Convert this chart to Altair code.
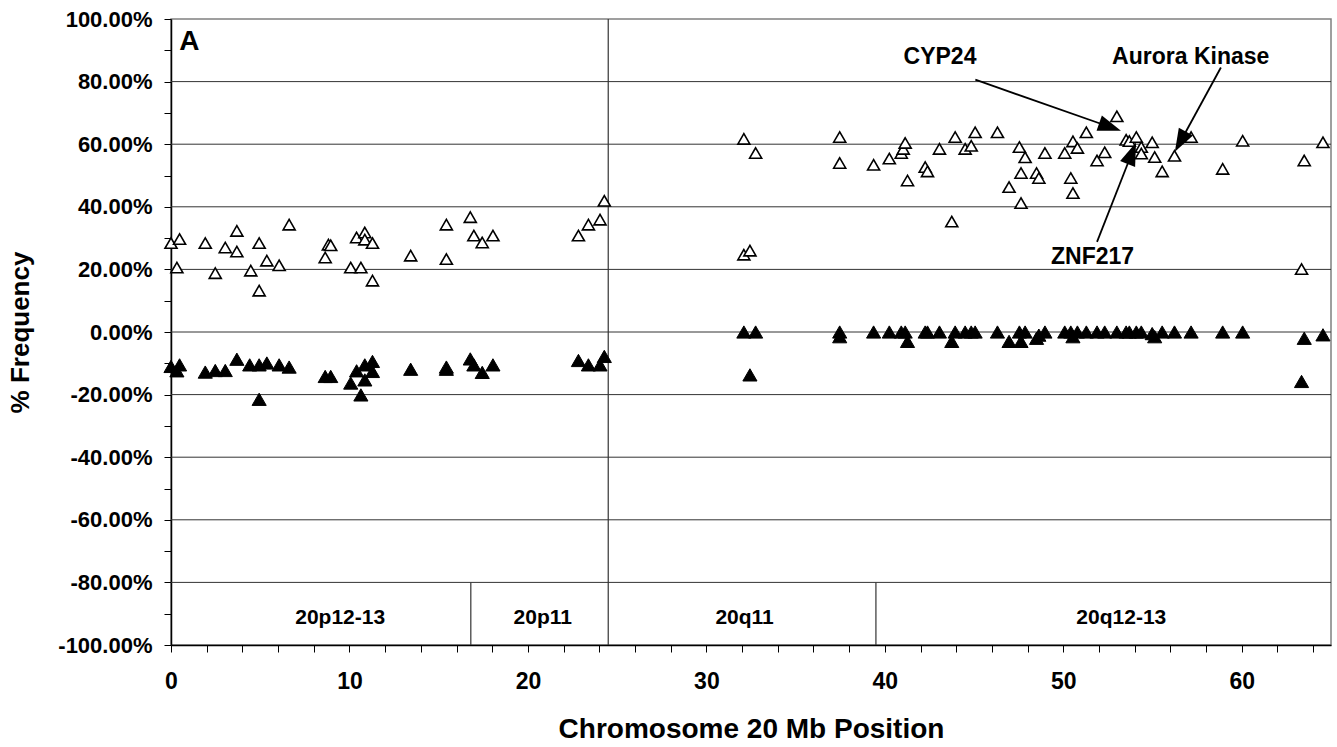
import altair as alt
import pandas as pd

# ---- data ----
gain_mb = [0.0, 0.48, 0.33, 1.92, 2.48, 3.04, 3.69, 3.69, 4.47, 4.94, 4.94, 5.37, 6.06, 6.62,
           8.64, 8.82, 8.95, 10.07, 10.40, 10.64, 10.86, 10.86, 11.29, 11.29,
           13.43, 15.43, 15.43, 16.77, 16.97, 17.44, 18.04, 22.83, 23.39, 24.04, 24.28,
           32.1, 32.76, 32.1, 32.44, 37.47, 37.47, 39.37, 40.25, 40.92, 41.03, 41.14, 41.27,
           42.26, 42.39, 43.06, 43.75, 43.94, 44.5, 44.84, 45.06, 46.31, 46.96, 47.54, 47.63,
           47.63, 47.86, 48.5, 48.63, 48.97, 50.08, 50.54, 50.79, 50.42, 50.54, 51.29, 51.89,
           52.32, 53.0, 53.52, 53.7, 54.09, 54.37, 54.37, 54.98, 55.12, 55.54, 56.23, 57.16,
           58.93, 60.05, 63.5, 63.35, 64.55]
gain_pct = [28.4, 29.7, 20.6, 28.4, 18.8, 27.0, 32.3, 25.7, 19.6, 28.4, 13.2, 22.8, 21.3, 34.3,
            23.8, 27.9, 27.7, 20.6, 30.2, 20.6, 31.8, 29.5, 28.4, 16.4,
            24.4, 34.3, 23.3, 36.7, 30.8, 28.6, 30.8, 30.8, 34.3, 35.9, 41.9,
            61.7, 57.2, 24.7, 26.0, 62.3, 54.0, 53.4, 55.4, 57.2, 58.5, 60.4, 48.4,
            52.7, 51.3, 58.5, 35.3, 62.3, 58.5, 59.5, 63.8, 63.8, 46.3, 59.1, 50.8,
            41.2, 55.8, 50.8, 49.2, 57.2, 57.2, 60.9, 58.8, 49.2, 44.4, 63.8, 54.8,
            57.4, 68.9, 61.4, 61.0, 62.3, 59.1, 57.0, 60.6, 55.9, 51.3, 56.3, 62.3,
            52.1, 61.1, 54.8, 20.1, 60.6]

loss_mb = [0.0, 0.33, 0.48, 1.92, 2.48, 3.04, 3.69, 4.41, 4.94, 4.94, 5.37, 6.06, 6.62,
           8.64, 8.95, 10.07, 10.40, 10.64, 10.86, 10.86, 11.29, 11.29,
           13.43, 15.43, 15.43, 16.77, 16.97, 17.44, 18.04, 22.83, 23.39, 24.04, 24.28,
           32.1, 32.76, 32.44, 37.47, 37.47, 39.37, 40.25, 40.92, 41.14, 41.27, 42.26, 42.39,
           43.06, 43.75, 43.94, 44.5, 44.84, 45.06, 46.31, 46.96, 47.54, 47.63, 47.86, 48.5,
           48.63, 48.97, 50.08, 50.42, 50.54, 50.79, 51.29, 51.89, 52.32, 53.0, 53.52, 53.7,
           54.09, 54.37, 54.98, 55.12, 55.54, 56.23, 57.16, 58.93, 60.05, 63.35, 63.5, 64.55]
loss_pct = [-11.0, -12.4, -10.5, -12.8, -12.3, -12.3, -8.7, -10.5, -10.5, -21.5, -9.9, -10.5, -11.2,
            -14.2, -14.2, -16.3, -12.4, -20.1, -15.3, -10.5, -9.4, -12.6,
            -11.9, -11.9, -11.2, -8.6, -10.5, -12.9, -10.5, -9.1, -10.5, -10.5, -7.8,
            0.0, 0.0, -13.7, 0.0, -1.5, 0.0, 0.0, 0.0, 0.0, -3.0, 0.0, 0.0,
            0.0, -3.0, 0.0, 0.0, 0.0, 0.0, 0.0, -3.0, 0.0, -3.0, 0.0, -2.0,
            -1.0, 0.0, 0.0, 0.0, -1.5, 0.0, 0.0, 0.0, 0.0, 0.0, 0.0, 0.0,
            0.0, 0.0, -0.5, -1.5, 0.0, 0.0, 0.0, 0.0, 0.0, -15.8, -2.0, -0.9]

grid_pct = [-80, -60, -40, -20, 0, 20, 40, 60, 80]
centromere_mb = [24.5]
band_edge_mb = [16.8, 39.5]
band_names = ["20p12-13", "20p11", "20q11", "20q12-13"]
band_mid_mb = [9.48, 20.83, 32.14, 53.25]
band_top = -80
band_bottom = -100
band_label_pct = -91.5

gene_names = ["CYP24", "Aurora Kinase", "ZNF217"]
gene_label_mb = [43.09, 57.14, 51.64]
gene_label_pct = [88.0, 88.0, 23.9]
arrow_start_mb = [45.07, 58.83, 51.89]
arrow_start_pct = [80.6, 84.5, 28.8]
arrow_end_mb = [52.62, 56.56, 53.84]
arrow_end_pct = [65.5, 60.8, 57.1]
arrow_angle = [109.3, 208.7, 21.5]

panel_letter = ["A"]
panel_letter_mb = [0.46]
panel_letter_pct = [92.6]

# ---- tables ----
gain_df = pd.DataFrame({"mb": gain_mb, "pct": gain_pct})
loss_df = pd.DataFrame({"mb": loss_mb, "pct": loss_pct})
grid_df = pd.DataFrame({"pct": grid_pct})
cen_df = pd.DataFrame({"mb": centromere_mb})
edge_df = pd.DataFrame({"mb": band_edge_mb, "top": [band_top] * len(band_edge_mb),
                        "bottom": [band_bottom] * len(band_edge_mb)})
band_df = pd.DataFrame({"mb": band_mid_mb, "name": band_names,
                        "pct": [band_label_pct] * len(band_names)})
gene_df = pd.DataFrame({"name": gene_names, "lx": gene_label_mb, "ly": gene_label_pct,
                        "x1": arrow_start_mb, "y1": arrow_start_pct,
                        "x2": arrow_end_mb, "y2": arrow_end_pct, "angle": arrow_angle})
letter_df = pd.DataFrame({"t": panel_letter, "mb": panel_letter_mb, "pct": panel_letter_pct})

FONT = "Liberation Sans"
X_TITLE = "Chromosome 20 Mb Position"
Y_TITLE = "% Frequency"
xs = alt.Scale(domain=[0, 65], nice=False, zero=False)
ys = alt.Scale(domain=[-100, 100], nice=False, zero=False)

x_axis = alt.Axis(
    values=list(range(0, 65, 2)),
    labelExpr="datum.value % 10 === 0 ? format(datum.value, 'd') : ''",
    grid=False, tickSize=7, tickColor="black", tickWidth=1,
    domainColor="black", domainWidth=1.5,
    labelFont=FONT, labelFontSize=23, labelFontWeight="bold", labelColor="black",
    labelPadding=18, labelFlush=False, labelOverlap=False,
    titleFont=FONT, titleFontSize=28, titleFontWeight="bold", titleColor="black",
    titleBaseline="alphabetic", titleY=92,
)
y_axis = alt.Axis(
    values=list(range(-100, 101, 10)),
    labelExpr=("datum.value % 20 === 0 ? (datum.value < 0 ? '-' : '') + "
               "format(abs(datum.value), '.2f') + '%' : ''"),
    grid=False, tickSize=7, tickColor="black", tickWidth=1,
    domainColor="black", domainWidth=1.5,
    labelFont=FONT, labelFontSize=22, labelFontWeight="bold", labelColor="black",
    labelPadding=12, labelFlush=False, labelOverlap=False,
    titleFont=FONT, titleFontSize=26, titleFontWeight="bold", titleColor="black",
    titleBaseline="alphabetic", titleX=-143, titleY=313, titleAngle=270,
)


def X(field):
    return alt.X(field, type="quantitative", scale=xs, axis=x_axis, title=X_TITLE)


def Y(field):
    return alt.Y(field, type="quantitative", scale=ys, axis=y_axis, title=Y_TITLE)


grid = alt.Chart(grid_df).mark_rule(color="#333333", strokeWidth=1).encode(y=Y("pct"))

cen = alt.Chart(cen_df).mark_rule(color="#333333", strokeWidth=1.2).encode(x=X("mb"))

edges = alt.Chart(edge_df).mark_rule(color="#333333", strokeWidth=1.2).encode(
    x=X("mb"), y=Y("top"), y2="bottom:Q")

bands = alt.Chart(band_df).mark_text(font=FONT, fontSize=21, fontWeight="bold",
                                     color="black", align="center", baseline="middle").encode(
    x=X("mb"), y=Y("pct"), text="name:N")

gain = alt.Chart(gain_df).mark_point(shape="triangle-up", filled=True, fill="white",
                                     stroke="black", strokeWidth=1.6, size=145, opacity=1).encode(
    x=X("mb"), y=Y("pct"))

loss = alt.Chart(loss_df).mark_point(shape="triangle-up", filled=True, fill="black",
                                     stroke="black", strokeWidth=1, size=200, opacity=1).encode(
    x=X("mb"), y=Y("pct"))

gene_text = alt.Chart(gene_df).mark_text(font=FONT, fontSize=23, fontWeight="bold",
                                         color="black", align="center", baseline="middle").encode(
    x=X("lx"), y=Y("ly"), text="name:N")

arrow_lines = alt.Chart(gene_df).mark_rule(color="black", strokeWidth=1.8).encode(
    x=X("x1"), y=Y("y1"), x2="x2:Q", y2="y2:Q")

arrow_heads = alt.Chart(gene_df).mark_point(shape="M0,-1L-0.7,1L0.7,1Z", filled=True,
                                            color="black", size=529, opacity=1).encode(
    x=X("x2"), y=Y("y2"), angle=alt.Angle("angle:Q", scale=None))

letter = alt.Chart(letter_df).mark_text(font=FONT, fontSize=28, fontWeight="bold",
                                        color="black", align="left", baseline="middle").encode(
    x=X("mb"), y=Y("pct"), text="t:N")

chart = alt.layer(
    grid, cen, edges, bands, gain, loss, arrow_lines, arrow_heads, gene_text, letter
).properties(
    width=1160, height=626,
    autosize=alt.AutoSizeParams(type="none"),
    padding={"left": 171, "top": 19, "right": 6, "bottom": 102},
    background="white",
).configure_view(stroke="#808080", strokeWidth=1.5)

chart.save("out.html", embed_options={"renderer": "svg", "actions": False})
